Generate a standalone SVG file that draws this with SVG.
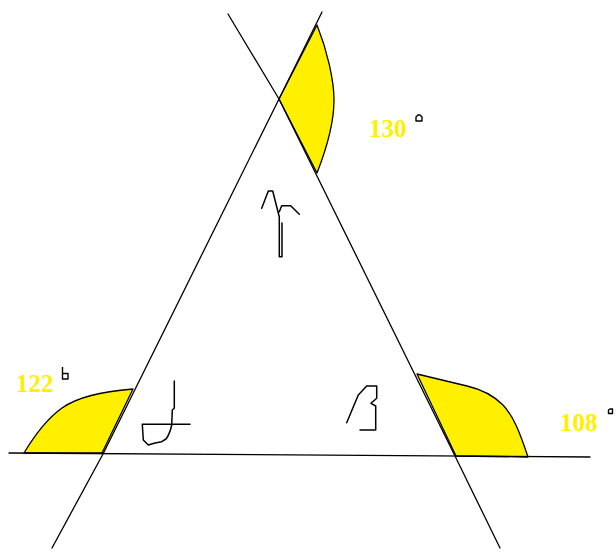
<svg xmlns="http://www.w3.org/2000/svg" width="616" height="552" viewBox="0 0 616 552">
<style>
.ln{fill:none;stroke:#000;stroke-width:1.3;stroke-linejoin:round;stroke-linecap:round}
.ar{fill:#FFF000;stroke:#000;stroke-width:1.3;stroke-linejoin:round}
.hw{fill:none;stroke:#000;stroke-width:1.5;stroke-linejoin:round;stroke-linecap:round}
.lbl{font-family:"Liberation Serif","Times New Roman",serif;font-weight:bold;font-size:25px;fill:#FFF000}
.deg{fill:#fff;stroke:#000;stroke-width:1.4;stroke-linejoin:round}
</style>
<rect width="616" height="552" fill="#fff"/>
<g id="angles">
<path id="angle-top" class="ar" d="M279,99 L317,25 C327,50 334,80 334,100 C334,125 326,150 317,173 Z"/>
<path id="angle-left" class="ar" d="M24,453 C36,433 48,418 62,408 C78,397 100,392 133,389 L102,453 Z"/>
<path id="angle-right" class="ar" d="M417,374 L467,386 C480,389 492,394 503,405 C514,417 520,433 528,457 L456,456 Z"/>
</g>
<g id="connectors">
<polyline class="ln" points="322,12 279,99 103,454 52,548"/>
<polyline class="ln" points="228,14 279,99 455,456 500,548"/>
<line class="ln" x1="9" y1="453" x2="590" y2="457"/>
</g>
<g id="symbols">
<path id="gamma" class="hw" d="M261.7,208.3 L268.3,191 L272.7,191 L279.3,217 L279.3,256.7 L282,256.7 L282,223 M279.3,211.7 L281.7,205.7 L290.7,205.7 L299.3,214.3"/>
<path id="alpha" class="hw" d="M174.3,381 L174.3,408.3 L172.3,410 L171.7,425 C170.5,431 169,435 166,439 L161.7,441.7 L155,443 L148.3,445 L143.3,440 L142.3,424.3 L190,424.3"/>
<path id="beta" class="hw" d="M346.7,422.7 L352,410 L358.3,395 L366.7,386 L376.7,386 L376.7,398.3 L371,403.3 L375.7,406 L375.7,430 L360,430"/>
</g>
<g id="labels">
<text class="lbl" x="369" y="137">130</text>
<path class="deg" d="M416,121 V117 L418,115 H420 L422,117 V121 Z"/>
<text class="lbl" x="16" y="392">122</text>
<path class="deg" d="M62.5,367 V379 H68 V373.5 H62.5"/>
<text class="lbl" x="560" y="431">108</text>
<path class="deg" d="M608.5,413.5 V410 L610,409 H612.5 V413.5 Z"/>
</g>
</svg>
